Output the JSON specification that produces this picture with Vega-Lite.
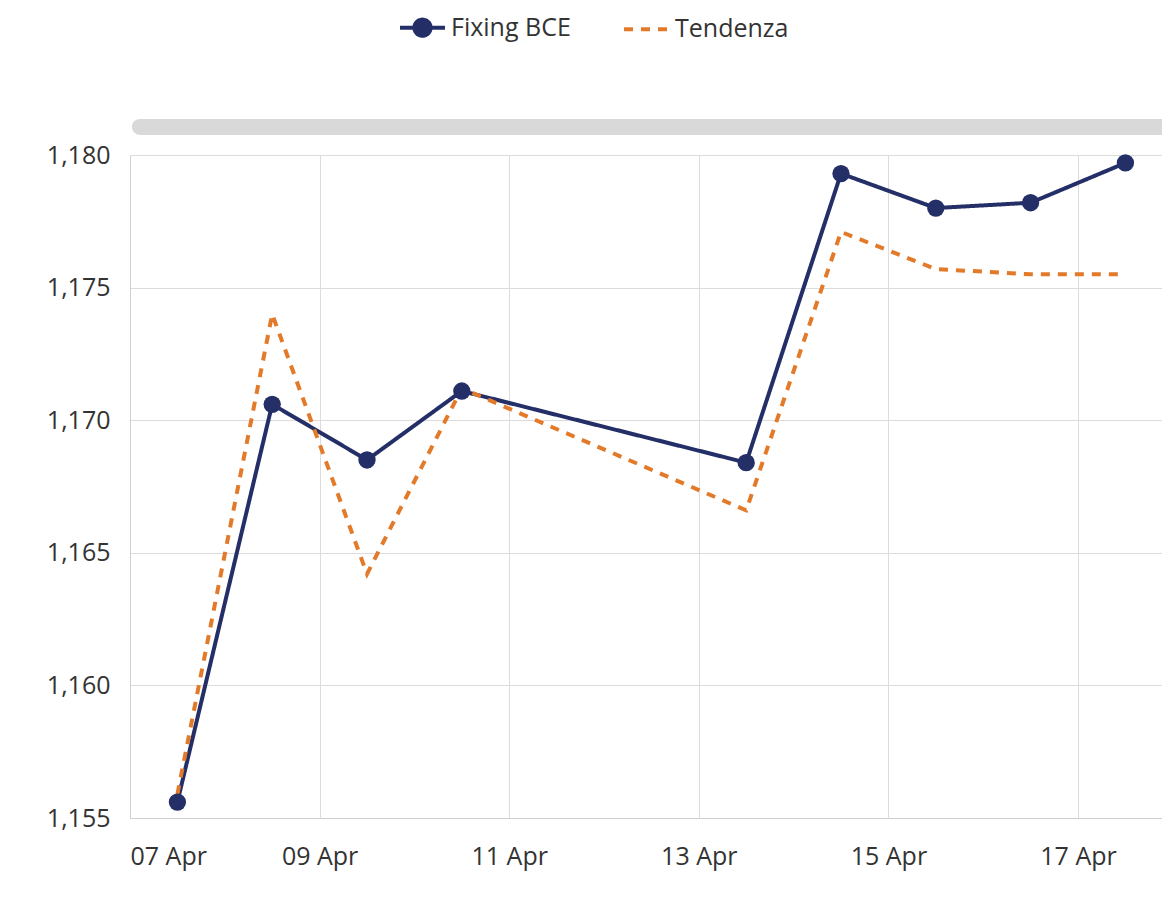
{
  "$schema": "https://vega.github.io/schema/vega-lite/v6.json",
  "width": 1032,
  "height": 663,
  "autosize": {"type": "none"},
  "padding": {"left": 130, "top": 155, "right": 0, "bottom": 93},
  "background": "white",
  "config": {
    "font": "Open Sans",
    "view": {"stroke": null},
    "axis": {
      "labelFont": "Open Sans",
      "labelFontSize": 25,
      "labelColor": "#333333",
      "gridColor": "#dcdcdc",
      "gridWidth": 1,
      "domainColor": "#d0d0d0",
      "ticks": false,
      "title": null
    }
  },
  "datasets": {
    "rates": [
      {"date": "2026-04-07T12:00", "serie": "Fixing BCE", "valore": 1.1556},
      {"date": "2026-04-08T12:00", "serie": "Fixing BCE", "valore": 1.1706},
      {"date": "2026-04-09T12:00", "serie": "Fixing BCE", "valore": 1.1685},
      {"date": "2026-04-10T12:00", "serie": "Fixing BCE", "valore": 1.1711},
      {"date": "2026-04-13T12:00", "serie": "Fixing BCE", "valore": 1.1684},
      {"date": "2026-04-14T12:00", "serie": "Fixing BCE", "valore": 1.1793},
      {"date": "2026-04-15T12:00", "serie": "Fixing BCE", "valore": 1.1780},
      {"date": "2026-04-16T12:00", "serie": "Fixing BCE", "valore": 1.1782},
      {"date": "2026-04-17T12:00", "serie": "Fixing BCE", "valore": 1.1797},
      {"date": "2026-04-07T12:00", "serie": "Tendenza", "valore": 1.1559},
      {"date": "2026-04-08T12:00", "serie": "Tendenza", "valore": 1.1740},
      {"date": "2026-04-09T12:00", "serie": "Tendenza", "valore": 1.1642},
      {"date": "2026-04-10T12:00", "serie": "Tendenza", "valore": 1.1712},
      {"date": "2026-04-13T12:00", "serie": "Tendenza", "valore": 1.1666},
      {"date": "2026-04-14T12:00", "serie": "Tendenza", "valore": 1.1771},
      {"date": "2026-04-15T12:00", "serie": "Tendenza", "valore": 1.1757},
      {"date": "2026-04-16T12:00", "serie": "Tendenza", "valore": 1.1755},
      {"date": "2026-04-17T12:00", "serie": "Tendenza", "valore": 1.1755}
    ]
  },
  "layer": [
    {
      "data": {"values": [{"start": "2026-04-07T02:30", "end": "2026-04-19T00:00", "level": 1.18106}]},
      "mark": {"type": "rule", "color": "#d9d9d9", "strokeWidth": 16, "strokeCap": "round", "clip": false},
      "encoding": {
        "x": {"field": "start", "type": "temporal"},
        "x2": {"field": "end"},
        "y": {"field": "level", "type": "quantitative"}
      }
    },
    {
      "data": {"name": "rates"},
      "mark": {"type": "line", "strokeWidth": 4},
      "encoding": {
        "x": {
          "field": "date",
          "type": "temporal",
          "scale": {"domain": ["2026-04-07T00:00", "2026-04-17T21:16"]},
          "axis": {
            "format": "%d %b",
            "values": [
              {"year": 2026, "month": 4, "date": 7},
              {"year": 2026, "month": 4, "date": 9},
              {"year": 2026, "month": 4, "date": 11},
              {"year": 2026, "month": 4, "date": 13},
              {"year": 2026, "month": 4, "date": 15},
              {"year": 2026, "month": 4, "date": 17}
            ],
            "labelPadding": 26,
            "grid": true
          }
        },
        "y": {
          "field": "valore",
          "type": "quantitative",
          "scale": {"domain": [1.155, 1.18], "zero": false, "nice": false},
          "axis": {
            "values": [1.155, 1.16, 1.165, 1.17, 1.175, 1.18],
            "labelExpr": "replace(format(datum.value, '.3f'), '.', ',')",
            "labelPadding": 20,
            "grid": true
          }
        },
        "color": {
          "field": "serie",
          "type": "nominal",
          "scale": {"domain": ["Fixing BCE", "Tendenza"], "range": ["#232f66", "#e37a2a"]},
          "legend": {
            "title": null,
            "orient": "none",
            "direction": "horizontal",
            "legendX": 268,
            "legendY": -152,
            "labelFont": "Open Sans",
            "labelFontSize": 25,
            "labelColor": "#333333",
            "labelOffset": 4,
            "columnPadding": 45,
            "symbolSize": 2025,
            "symbolStrokeWidth": 4,
            "encode": {
              "symbols": {
                "update": {
                  "shape": {"signal": "datum.value === 'Fixing BCE' ? 'M-1,0L1,0M-0.36,0A0.36,0.36 0 1,0 0.36,0A0.36,0.36 0 1,0 -0.36,0Z' : 'stroke'"},
                  "fill": {"signal": "datum.value === 'Fixing BCE' ? '#232f66' : 'transparent'"},
                  "strokeDash": {"signal": "datum.value === 'Tendenza' ? [9, 8] : [1, 0]"},
                  "strokeWidth": {"value": 4}
                }
              }
            }
          }
        },
        "strokeDash": {
          "field": "serie",
          "type": "nominal",
          "scale": {"domain": ["Fixing BCE", "Tendenza"], "range": [[1, 0], [9, 8]]},
          "legend": null
        },
        "order": {"field": "date", "type": "temporal"}
      }
    },
    {
      "data": {"name": "rates"},
      "transform": [{"filter": "datum.serie === 'Fixing BCE'"}],
      "mark": {"type": "point", "filled": true, "opacity": 1, "size": 300, "color": "#232f66"},
      "encoding": {
        "x": {"field": "date", "type": "temporal"},
        "y": {"field": "valore", "type": "quantitative"}
      }
    }
  ]
}
